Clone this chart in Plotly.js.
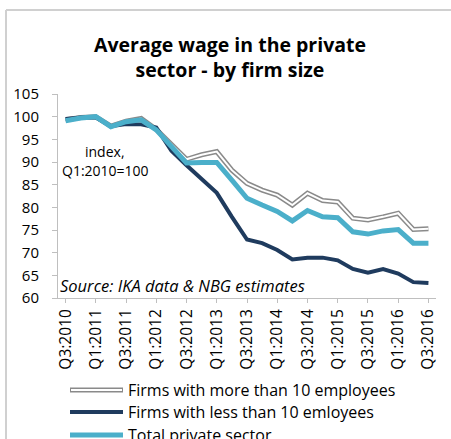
<!DOCTYPE html>
<html>
<head>
<meta charset="utf-8">
<script src="https://cdn.plot.ly/plotly-3.0.1.min.js"></script>
<style>
  html, body { margin: 0; padding: 0; background: #ffffff; }
  #chart { width: 451px; height: 439px; }
</style>
</head>
<body>
<div id="chart"></div>
<script>
const quarters = [
  "Q3:2010","Q4:2010","Q1:2011","Q2:2011","Q3:2011","Q4:2011","Q1:2012","Q2:2012",
  "Q3:2012","Q4:2012","Q1:2013","Q2:2013","Q3:2013","Q4:2013","Q1:2014","Q2:2014",
  "Q3:2014","Q4:2014","Q1:2015","Q2:2015","Q3:2015","Q4:2015","Q1:2016","Q2:2016","Q3:2016"
];
const tickLabels = ["Q3:2010","Q1:2011","Q3:2011","Q1:2012","Q3:2012","Q1:2013","Q3:2013",
  "Q1:2014","Q3:2014","Q1:2015","Q3:2015","Q1:2016","Q3:2016"];

const firmsMoreThan10 = [99.3, 99.8, 100.0, 97.9, 99.0, 99.6, 97.2, 93.8, 90.6, 91.6, 92.3, 88.2, 85.3,
  83.8, 82.7, 80.5, 83.1, 81.5, 81.2, 77.6, 77.2, 77.9, 78.7, 75.1, 75.3];
const firmsLessThan10 = [99.5, 99.8, 99.8, 97.9, 98.4, 98.3, 97.6, 92.5, 89.3, 86.3, 83.2, 77.9, 72.9,
  72.1, 70.6, 68.5, 68.9, 68.9, 68.3, 66.4, 65.6, 66.4, 65.4, 63.5, 63.3];
const totalPrivate = [99.1, 99.7, 100.0, 97.8, 98.9, 99.3, 97.1, 93.3, 89.8, 89.9, 89.9, 86.0, 82.0,
  80.5, 79.1, 77.0, 79.3, 77.9, 77.7, 74.6, 74.1, 74.8, 75.1, 72.1, 72.1];

const seriesNames = ["Firms with more than 10 employees", "Firms with less than 10 emloyees", "Total private sector"];

const GRAY = "#8a8a8a", NAVY = "#1f3b5e", TEAL = "#4bafca";
const FONT = "Open Sans, Liberation Sans, sans-serif";

// plot area in pixels: x 58..436, y 94..298
const L = 58, R = 436, T = 94, B = 298;
const px = v => (v - L) / (R - L);
const py = v => (B - v) / (B - T);

const traces = [
  {x: quarters, y: firmsMoreThan10, mode: "lines", line: {color: GRAY, width: 5}, showlegend: false, hoverinfo: "skip"},
  {x: quarters, y: firmsMoreThan10, mode: "lines", line: {color: "#ffffff", width: 2}, showlegend: false, hoverinfo: "skip"},
  {x: quarters, y: firmsLessThan10, mode: "lines", line: {color: NAVY, width: 4}, showlegend: false, hoverinfo: "skip"},
  {x: quarters, y: totalPrivate, mode: "lines", line: {color: TEAL, width: 5}, showlegend: false, hoverinfo: "skip"}
];

const legendRows = [390, 412, 435];
const shapes = [
  // frame
  {type: "line", xref: "paper", yref: "paper", x0: px(6), x1: px(6), y0: py(10), y1: py(445), line: {color: "#d0d0d0", width: 2}},
  {type: "line", xref: "paper", yref: "paper", x0: px(6), x1: px(455), y0: py(10), y1: py(10), line: {color: "#d0d0d0", width: 2}},
  // legend symbols
  {type: "line", xref: "paper", yref: "paper", x0: px(70), x1: px(123), y0: py(legendRows[0]), y1: py(legendRows[0]), line: {color: GRAY, width: 5}},
  {type: "line", xref: "paper", yref: "paper", x0: px(71), x1: px(122), y0: py(legendRows[0]), y1: py(legendRows[0]), line: {color: "#ffffff", width: 2}},
  {type: "line", xref: "paper", yref: "paper", x0: px(70), x1: px(123), y0: py(legendRows[1]), y1: py(legendRows[1]), line: {color: NAVY, width: 4}},
  {type: "line", xref: "paper", yref: "paper", x0: px(70), x1: px(123), y0: py(legendRows[2]), y1: py(legendRows[2]), line: {color: TEAL, width: 5}}
];

const annotations = [
  {xref: "paper", yref: "paper", x: px(105), y: py(151), text: "index,", showarrow: false, xanchor: "center", yanchor: "middle", font: {family: FONT, size: 14, color: "#000"}},
  {xref: "paper", yref: "paper", x: px(105), y: py(170), text: "Q1:2010=100", showarrow: false, xanchor: "center", yanchor: "middle", font: {family: FONT, size: 14, color: "#000"}},
  {xref: "paper", yref: "paper", x: px(58), y: py(285), text: "<i>Source: IKA data &amp; NBG estimates</i>", showarrow: false, xanchor: "left", yanchor: "middle", font: {family: FONT, size: 16.5, color: "#000"}}
];
seriesNames.forEach((n, i) => {
  annotations.push({xref: "paper", yref: "paper", x: px(126), y: py(legendRows[i]), text: n, showarrow: false,
    xanchor: "left", yanchor: "middle", font: {family: FONT, size: 16, color: "#000"}});
});

const layout = {
  width: 451, height: 439,
  margin: {l: L, r: 451 - R, t: T, b: 439 - B, pad: 0},
  paper_bgcolor: "#ffffff", plot_bgcolor: "#ffffff",
  showlegend: false,
  title: {
    text: "<b>Average wage in the private<br>sector - by firm size</b>",
    x: 230 / 451, xanchor: "center", xref: "container",
    y: 1 - 52 / 439, yanchor: "middle", yref: "container",
    font: {family: FONT, size: 19.5, color: "#000"}
  },
  xaxis: {
    type: "category", range: [-0.5, 24.5],
    tickvals: tickLabels, ticktext: tickLabels, tickangle: -90,
    showline: true, linecolor: "#bfbfbf", linewidth: 1,
    ticks: "outside", ticklen: 4, tickcolor: "#bfbfbf",
    showgrid: false, zeroline: false,
    tickfont: {family: FONT, size: 15.5, color: "#000"}
  },
  yaxis: {
    range: [60, 105], dtick: 5, tick0: 60,
    showline: true, linecolor: "#bfbfbf", linewidth: 1,
    ticks: "outside", ticklen: 5, tickcolor: "#bfbfbf",
    ticklabelstandoff: 10,
    showgrid: false, zeroline: false,
    tickfont: {family: FONT, size: 15, color: "#000"}
  },
  shapes: shapes,
  annotations: annotations
};

Plotly.newPlot("chart", traces, layout, {displayModeBar: false, staticPlot: true});
</script>
</body>
</html>
